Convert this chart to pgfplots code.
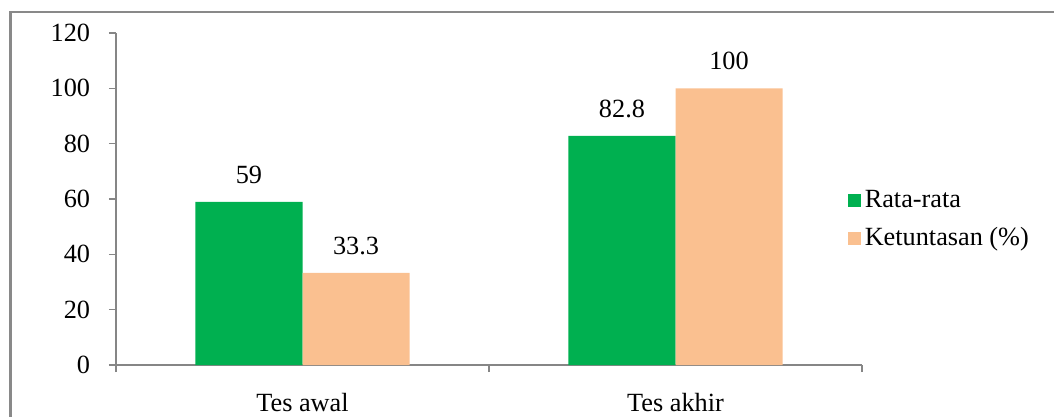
\documentclass[border=0pt]{standalone}
\usepackage{pgfplots}
\pgfplotsset{compat=1.18}
\usepackage{fontspec}
\setmainfont{Liberation Serif}
\definecolor{cgreen}{RGB}{0,176,80}
\definecolor{corange}{RGB}{250,192,144}
\definecolor{axgray}{RGB}{134,134,134}
\definecolor{frgray}{RGB}{137,137,137}
\begin{document}
\begin{tikzpicture}
\fontsize{19.7bp}{23bp}\selectfont
\begin{axis}[
  at={(87bp,39bp)}, anchor=south west,
  scale only axis, width=559.5bp, height=249bp,
  ybar=0pt, bar width=0.287,
  xmin=0, xmax=2, ymin=0, ymax=120,
  ytick={0,20,...,120},
  xtick={0.5,1.5}, xticklabels={Tes awal, Tes akhir},
  minor xtick={0,1,2},
  axis x line*=bottom, axis y line*=left,
  axis line style={axgray, line width=0.8pt, -},
  major x tick style={draw=none},
  minor tick style={axgray, line width=0.8pt},
  major tick style={axgray, line width=0.8pt},
  tick align=outside, major tick length=5.25bp, minor tick length=5.25bp,
  tick label style={font=\fontsize{19.7bp}{23bp}\selectfont},
  /pgf/number format/assume math mode=true,
  yticklabel style={inner sep=0pt, xshift=-14bp},
  xticklabel style={inner sep=0pt, yshift=-16bp},
  nodes near coords,
  every node near coord/.append style={font=\fontsize{19.7bp}{23bp}\selectfont, inner sep=0pt, yshift=13.5bp},
  point meta=explicit symbolic,
  legend style={draw=none, fill=none, at={(rel axis cs:0.9812,0.4367)}, anchor=west,
    font=\fontsize{19.7bp}{23bp}\selectfont, row sep=12bp, inner sep=0pt,
    nodes={inner xsep=2.6bp, inner ysep=0pt}},
  legend cell align=left,
  legend image code/.code={\fill[#1] (0cm,-4.9bp) rectangle (9.8bp,4.9bp);},
  clip=false,
]
\addplot[fill=cgreen, draw=none] coordinates {(0.5,59) [59] (1.5,82.8) [82.8]};
\addplot[fill=corange, draw=none] coordinates {(0.5,33.3) [33.3] (1.5,100) [100]};
\legend{Rata-rata, Ketuntasan (\%)}
\end{axis}
\draw[frgray, line width=1.9bp] (7.9bp,0) -- (7.9bp,303.75bp) -- (790.5bp,303.75bp);
\pgfresetboundingbox
\useasboundingbox (0,0) rectangle (790.5bp,312.75bp);
\end{tikzpicture}
\end{document}
